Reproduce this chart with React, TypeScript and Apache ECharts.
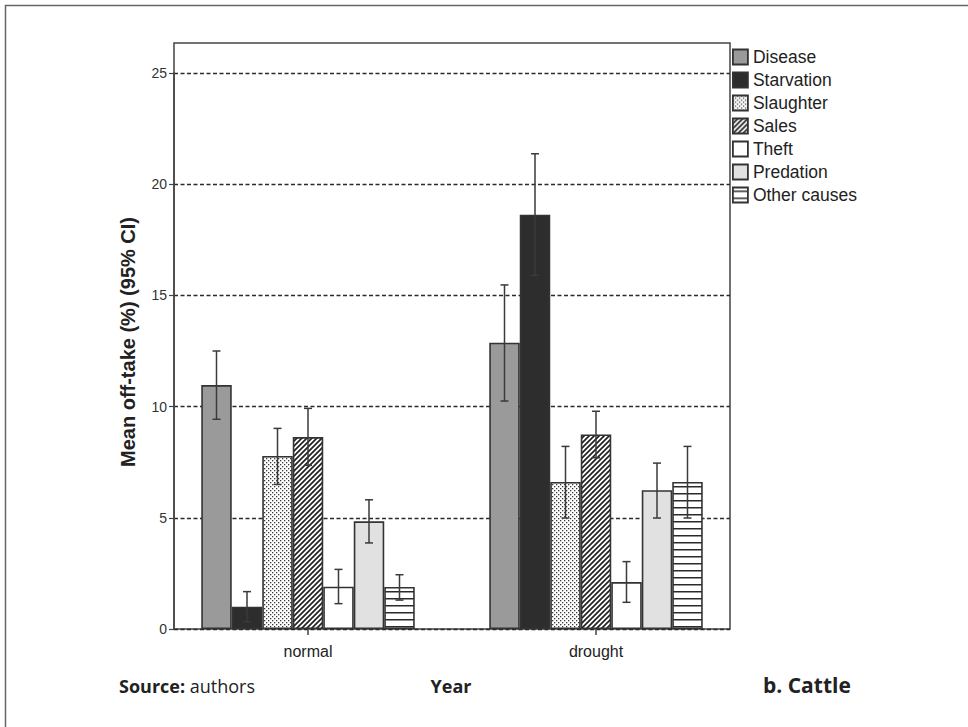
import React, { useEffect, useRef } from 'react';
import * as echarts from 'echarts';

const categories = ['normal', 'drought'];
const seriesNames = ['Disease', 'Starvation', 'Slaughter', 'Sales', 'Theft', 'Predation', 'Other causes'];

const disease = [10.97, 12.87];
const starvation = [1.0, 18.63];
const slaughter = [7.78, 6.61];
const sales = [8.63, 8.75];
const theft = [1.9, 2.11];
const predation = [4.84, 6.24];
const otherCauses = [1.89, 6.61];

// 95% CI [low, high] per category
const diseaseCI = [[9.43, 12.5], [10.25, 15.47]];
const starvationCI = [[0.32, 1.68], [15.9, 21.37]];
const slaughterCI = [[6.5, 9.02], [4.99, 8.21]];
const salesCI = [[7.36, 9.92], [7.7, 9.79]];
const theftCI = [[1.14, 2.68], [1.2, 3.03]];
const predationCI = [[3.87, 5.81], [4.99, 7.46]];
const otherCausesCI = [[1.3, 2.44], [4.99, 8.21]];

const yTicks = [0, 5, 10, 15, 20, 25];

const FONT = '"Liberation Sans", Arial, sans-serif';
const FONT2 = '"Open Sans", "Liberation Sans", sans-serif';

function makePattern(kind: string) {
  const c = document.createElement('canvas');
  let w = 4, h = 4;
  if (kind === 'dots') { w = 4; h = 4; }
  if (kind === 'diag') { w = 5; h = 5; }
  if (kind === 'hline') { w = 4; h = 7; }
  c.width = w; c.height = h;
  const ctx = c.getContext('2d')!;
  ctx.fillStyle = '#ffffff';
  ctx.fillRect(0, 0, w, h);
  if (kind === 'dots') {
    ctx.fillStyle = '#3a3a3a';
    ctx.fillRect(0, 0, 1.3, 1.3);
    ctx.fillRect(2, 2, 1.3, 1.3);
  } else if (kind === 'diag') {
    ctx.strokeStyle = '#222';
    ctx.lineWidth = 1.7;
    ctx.beginPath();
    for (const k of [-w, 0, w]) {
      ctx.moveTo(k - 1, h + 1);
      ctx.lineTo(k + w + 1, -1);
    }
    ctx.stroke();
  } else if (kind === 'hline') {
    ctx.fillStyle = '#2a2a2a';
    ctx.fillRect(0, 3, w, 1.5);
  }
  return { image: c.toDataURL(), repeat: 'repeat', imageWidth: w, imageHeight: h };
}

export default function App() {
  const ref = useRef<HTMLDivElement>(null);

  useEffect(() => {
    document.body.style.margin = '0';
    if (!ref.current) return;
    const chart = echarts.init(ref.current, null, { renderer: 'svg' });

    const barW = 30.5;
    const seriesData = [disease, starvation, slaughter, sales, theft, predation, otherCauses];
    const ciData = [diseaseCI, starvationCI, slaughterCI, salesCI, theftCI, predationCI, otherCausesCI];
    const fills: any[] = [
      '#9a9a9a',
      '#2d2d2d',
      makePattern('dots'),
      makePattern('diag'),
      '#ffffff',
      '#e1e1e1',
      makePattern('hline'),
    ];

    const barSeries = seriesNames.map((name, i) => ({
      type: 'bar',
      name,
      data: seriesData[i],
      xAxisIndex: 0,
      yAxisIndex: 0,
      barWidth: barW,
      barGap: '0%',
      itemStyle: { color: fills[i], borderColor: '#333', borderWidth: 1.6 },
      emphasis: { disabled: true },
      z: 2,
    }));

    const errData: number[][] = [];
    ciData.forEach((ci, s) => ci.forEach(([lo, hi], c) => errData.push([c, s, lo, hi])));

    const errSeries = {
      type: 'custom',
      name: 'ci',
      xAxisIndex: 0,
      yAxisIndex: 0,
      data: errData,
      encode: { x: 0, y: [2, 3] },
      z: 5,
      silent: true,
      renderItem: (params: any, api: any) => {
        const c = api.value(0);
        const s = api.value(1);
        const top = api.coord([c, api.value(3)]);
        const bot = api.coord([c, api.value(2)]);
        const x = top[0] + (s - 3) * barW;
        const cap = 4;
        const style = { stroke: '#3a3a3a', lineWidth: 1.5 };
        return {
          type: 'group',
          children: [
            { type: 'line', shape: { x1: x, y1: top[1], x2: x, y2: bot[1] }, style },
            { type: 'line', shape: { x1: x - cap, y1: top[1], x2: x + cap, y2: top[1] }, style },
            { type: 'line', shape: { x1: x - cap, y1: bot[1], x2: x + cap, y2: bot[1] }, style },
          ],
        };
      },
    };

    const option: any = {
      animation: false,
      backgroundColor: '#ffffff',
      grid: [
        { left: 164, top: 73, width: 576, height: 556, show: false },
        { left: 174, top: 73, width: 556, height: 556, show: false },
        { left: 174, top: 43, width: 556, height: 586, show: true, borderColor: '#444', borderWidth: 1.5, backgroundColor: 'transparent' },
      ],
      xAxis: [
        {
          type: 'category',
          gridIndex: 0,
          data: categories,
          axisLine: { show: false },
          axisTick: { show: true, alignWithLabel: true, length: 6, lineStyle: { color: '#444', width: 1.5 } },
          axisLabel: { fontSize: 16, color: '#222', margin: 14, fontFamily: FONT },
          splitLine: { show: false },
        },
        { type: 'value', gridIndex: 1, show: false, min: 0, max: 1 },
        { type: 'value', gridIndex: 2, show: false, min: 0, max: 1 },
      ],
      yAxis: [
        { type: 'value', gridIndex: 0, show: false, min: 0, max: 25, interval: 5, splitLine: { show: false } },
        {
          type: 'value',
          gridIndex: 1,
          min: yTicks[0],
          max: yTicks[yTicks.length - 1],
          interval: 5,
          axisLine: { show: true, lineStyle: { color: '#444', width: 1.5 } },
          axisTick: { show: true, length: 5, inside: false, lineStyle: { color: '#444', width: 1.2 } },
          axisLabel: { color: '#333', fontSize: 14, margin: 7, fontFamily: FONT },
          splitLine: { show: true, lineStyle: { color: '#2a2a2a', type: [4, 2.5], width: 1.3 } },
        },
        { type: 'value', gridIndex: 2, show: false, min: 0, max: 1, splitLine: { show: false } },
      ],
      legend: {
        data: seriesNames,
        orient: 'vertical',
        left: 732,
        top: 48,
        itemWidth: 15,
        itemHeight: 15,
        itemGap: 5,
        padding: 0,
        icon: 'rect',
        selectedMode: false,
        itemStyle: { borderWidth: 1.8 },
        textStyle: { fontSize: 17.5, color: '#222', fontFamily: FONT, lineHeight: 17 },
      },
      series: [...barSeries, errSeries],
      graphic: [
        {
          type: 'polyline',
          shape: { points: [[5.5, 727], [5.5, 5.5], [968, 5.5]] },
          style: { stroke: '#666', lineWidth: 1.5, fill: null },
          silent: true,
        },
        {
          type: 'text',
          x: 128,
          y: 342,
          rotation: Math.PI / 2,
          style: {
            text: 'Mean off-take (%) (95% CI)',
            fontSize: 20,
            fontWeight: 'bold',
            fontFamily: FONT,
            fill: '#222',
            align: 'center',
            verticalAlign: 'middle',
          },
        },
        {
          type: 'text',
          x: 119,
          y: 686,
          style: {
            text: '{b|Source:}{r| authors}',
            align: 'left',
            verticalAlign: 'middle',
            rich: {
              b: { fontSize: 18, fontWeight: 'bold', fontFamily: FONT2, fill: '#222' },
              r: { fontSize: 18, fontWeight: 'normal', fontFamily: FONT2, fill: '#222' },
            },
          },
        },
        {
          type: 'text',
          x: 451,
          y: 686,
          style: {
            text: 'Year',
            fontSize: 18,
            fontWeight: 'bold',
            fontFamily: FONT2,
            fill: '#222',
            align: 'center',
            verticalAlign: 'middle',
          },
        },
        {
          type: 'text',
          x: 763,
          y: 685,
          style: {
            text: 'b. Cattle',
            fontSize: 21,
            fontWeight: 'bold',
            fontFamily: FONT2,
            fill: '#222',
            align: 'left',
            verticalAlign: 'middle',
          },
        },
      ],
    };

    chart.setOption(option);
    return () => chart.dispose();
  }, []);

  return <div ref={ref} style={{ width: 968, height: 727 }} />;
}
